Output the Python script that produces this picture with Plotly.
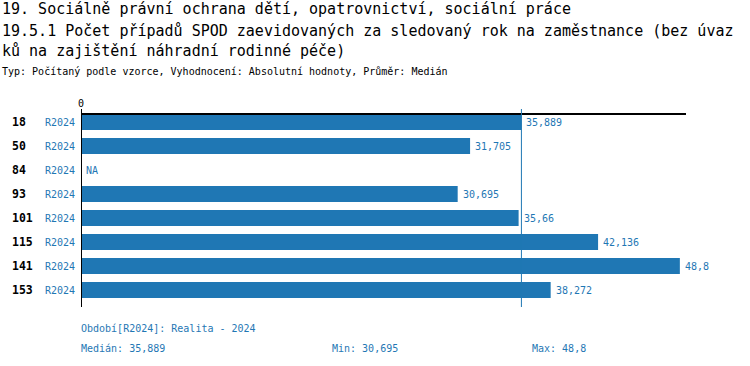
import plotly.graph_objects as go

categories = ["18", "50", "84", "93", "101", "115", "141", "153"]
period_labels = ["R2024"] * 8
values = [35.889, 31.705, None, 30.695, 35.66, 42.136, 48.8, 38.272]
median_val = 35.889
min_val = 30.695
max_val = 48.8
x_max = 49.3

title1 = "19. Sociálně právní ochrana dětí, opatrovnictví, sociální práce"
title2 = "19.5.1 Počet případů SPOD zaevidovaných za sledovaný rok na zaměstnance (bez úvaz"
title3 = "ků na zajištění náhradní rodinné péče)"
subtitle = "Typ: Počítaný podle vzorce, Vyhodnocení: Absolutní hodnoty, Průměr: Medián"
footer1 = "Období[R2024]: Realita - 2024"

BLUE = "#1f77b4"
FONT = "DejaVu Sans Mono"
W, H = 750, 366
L, R_, T, B = 81, 64, 110, 64
PW = W - L - R_
PH = H - T - B
n = len(categories)
rows = list(range(n))


def fmt(v):
    if v is None:
        return "NA"
    return ("%g" % v).replace(".", ",")


def px(x):
    return (x - L) / PW


def py(y):
    return (H - B - y) / PH


fig = go.Figure()
fig.add_trace(go.Bar(
    y=rows,
    x=[v if v is not None else 0 for v in values],
    orientation="h",
    marker=dict(color=BLUE, line=dict(width=0)),
    width=0.667,
    hoverinfo="skip",
))

ann = []
for i, c, p, v in zip(rows, categories, period_labels, values):
    ann.append(dict(x=px(10), xref="paper", y=i, yref="y", text="<b>%s</b>" % c,
                    showarrow=False, xanchor="left", yanchor="middle",
                    font=dict(family=FONT, size=11.5, color="black")))
    ann.append(dict(x=0, xref="x", y=i, yref="y", text=p, xshift=-4,
                    showarrow=False, xanchor="right", yanchor="middle",
                    font=dict(family=FONT, size=10, color=BLUE)))
    ann.append(dict(x=v if v is not None else 0, xref="x", y=i, yref="y",
                    text=fmt(v), xshift=3, showarrow=False, xanchor="left",
                    yanchor="middle", font=dict(family=FONT, size=10, color=BLUE)))

ann.append(dict(x=0, xref="x", y=py(103), yref="paper", text="0", showarrow=False,
                xanchor="center", yanchor="middle",
                font=dict(family=FONT, size=10, color="black")))

for txt, y, sz in [(title1, 9, 15), (title2, 31, 15), (title3, 51, 15), (subtitle, 71, 10)]:
    ann.append(dict(x=px(0), xref="paper", y=py(y), yref="paper", text=txt,
                    showarrow=False, xanchor="left", yanchor="middle",
                    font=dict(family=FONT, size=sz, color="black")))

for txt, x, y in [(footer1, 79, 328),
                  ("Medián: " + fmt(median_val), 79, 348),
                  ("Min: " + fmt(min_val), 330, 348),
                  ("Max: " + fmt(max_val), 530, 348)]:
    ann.append(dict(x=px(x), xref="paper", y=py(y), yref="paper", text=txt,
                    showarrow=False, xanchor="left", yanchor="middle",
                    font=dict(family=FONT, size=10, color=BLUE)))

shapes = [
    dict(type="line", xref="x", yref="paper", x0=0, x1=x_max, y0=py(114), y1=py(114),
         line=dict(color="black", width=2)),
    dict(type="line", xref="x", yref="paper", x0=0, x1=0, y0=py(307), y1=py(109),
         line=dict(color="black", width=2)),
    dict(type="line", xref="x", yref="paper", x0=median_val, x1=median_val,
         y0=py(307), y1=py(109), line=dict(color=BLUE, width=1)),
]

fig.update_layout(
    width=W, height=H,
    margin=dict(l=L, r=R_, t=T, b=B, pad=0),
    paper_bgcolor="white", plot_bgcolor="white",
    showlegend=False,
    xaxis=dict(range=[0, x_max], showgrid=False, zeroline=False, showline=False,
               showticklabels=False, ticks="", fixedrange=True),
    yaxis=dict(range=[n - 0.5, -0.5], showgrid=False, zeroline=False, showline=False,
               showticklabels=False, ticks="", fixedrange=True),
    annotations=ann,
    shapes=shapes,
)

fig.write_html("out.html", config={"displayModeBar": False},
               post_script="document.body.style.margin='0';document.body.style.padding='0';")
